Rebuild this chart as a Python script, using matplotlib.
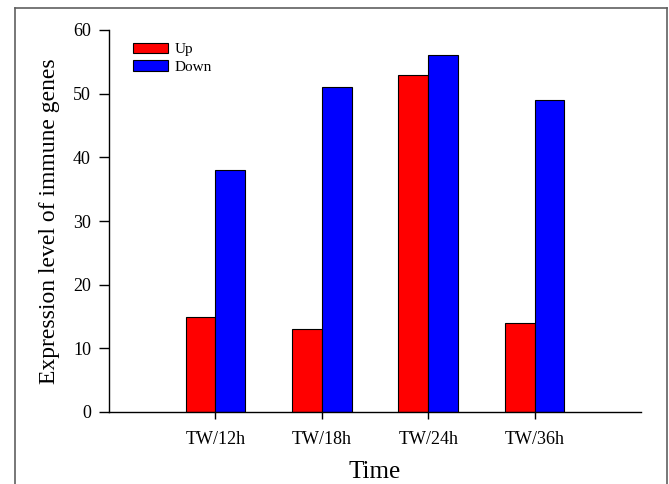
import matplotlib
matplotlib.use("Agg")
import matplotlib.pyplot as plt
from matplotlib.patches import Patch
from matplotlib.lines import Line2D
import numpy as np

categories = ["TW/12h", "TW/18h", "TW/24h", "TW/36h"]
up_values = [15, 13, 53, 14]
down_values = [38, 51, 56, 49]
yticks = [0, 10, 20, 30, 40, 50, 60]

plt.rcParams['font.family'] = ['Liberation Serif', 'DejaVu Serif']

W, H = 669, 484
fig = plt.figure(figsize=(W / 100, H / 100), dpi=100)
ax = fig.add_axes([109 / W, 1 - 412 / H, (641 - 109) / W, (412 - 30) / H])

x = np.arange(1, len(categories) + 1)
bw = 0.28
ax.bar(x - bw / 2, up_values, bw, color='#ff0000', edgecolor='black', linewidth=0.8, label='Up')
ax.bar(x + bw / 2, down_values, bw, color='#0000ff', edgecolor='black', linewidth=0.8, label='Down')

ax.set_xlim(0, 5)
ax.set_ylim(0, 60)
ax.set_xticks(x)
ax.set_xticklabels(categories, fontsize=13)
ax.set_yticks(yticks)
ax.set_yticklabels([str(v) for v in yticks], fontsize=13)
ax.tick_params(axis='y', direction='out', length=7, width=1, pad=6)
ax.tick_params(axis='x', direction='out', length=5, width=1, pad=9)
for s in ['top', 'right']:
    ax.spines[s].set_visible(False)
for s in ['left', 'bottom']:
    ax.spines[s].set_linewidth(1)

ax.set_ylabel("Expression level of immune genes", fontsize=17, va='center')
ax.yaxis.set_label_coords((50 - 109) / 532, 0.5)
ax.set_xlabel("Time", fontsize=18, va='center')
ax.xaxis.set_label_coords(0.5, (412 - 472) / 382)

handles = [Patch(facecolor='#ff0000', edgecolor='black', linewidth=0.8),
           Patch(facecolor='#0000ff', edgecolor='black', linewidth=0.8)]
ax.legend(handles, ['Up', 'Down'], loc='upper left', bbox_to_anchor=(0.0444, 0.967),
          frameon=False, fontsize=11, handlelength=2.3, handleheight=0.72,
          handletextpad=0.45, labelspacing=0.25, borderaxespad=0, borderpad=0)

# figure frame (grey border, no bottom)
col = '#606060'
fx0, fx1, fy1 = 15 / W, 667 / W, 1 - 8 / H
fig.add_artist(Line2D([fx0, fx0], [0, fy1], color=col, linewidth=1.2, transform=fig.transFigure))
fig.add_artist(Line2D([fx1, fx1], [0, fy1], color=col, linewidth=1.2, transform=fig.transFigure))
fig.add_artist(Line2D([fx0, fx1], [fy1, fy1], color=col, linewidth=1.2, transform=fig.transFigure))

fig.savefig("out.png", dpi=100)
